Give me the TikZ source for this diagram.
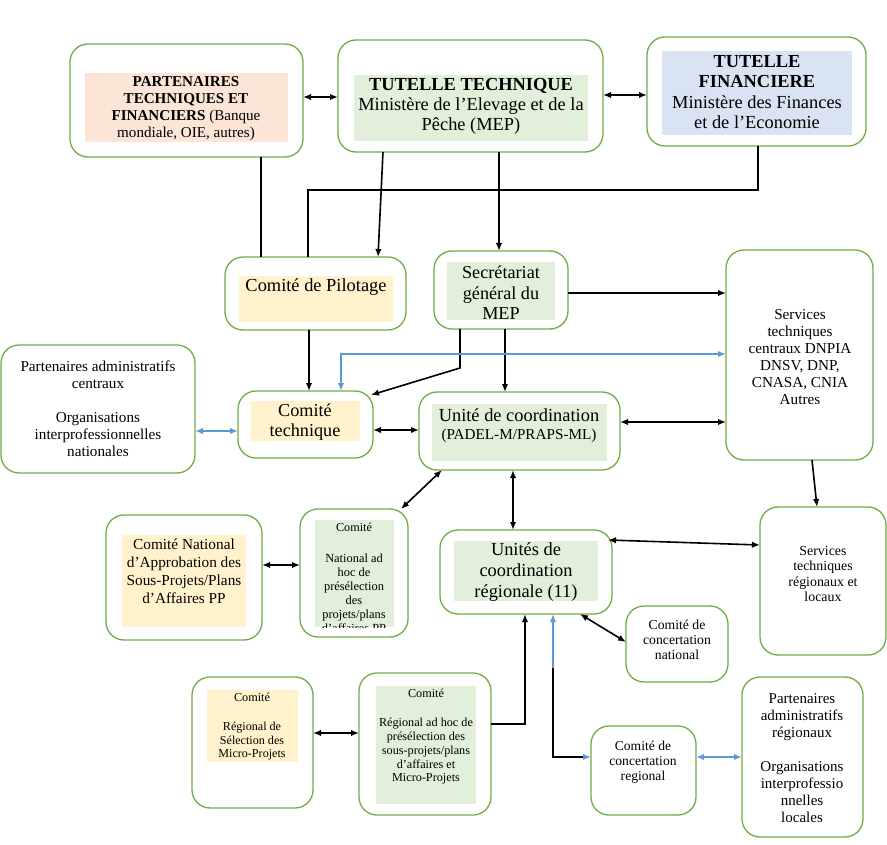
\documentclass[tikz,border=0pt]{standalone}
\usepackage{fontspec}
\setmainfont{Liberation Serif}
\usetikzlibrary{arrows.meta,calc}
\definecolor{gstroke}{RGB}{112,173,71}
\definecolor{salmon}{RGB}{252,228,214}
\definecolor{lgreen}{RGB}{226,239,218}
\definecolor{lblue}{RGB}{218,227,243}
\definecolor{lyellow}{RGB}{255,242,204}
\definecolor{bluel}{RGB}{91,155,213}
\newcommand\fs[2]{\fontsize{#1}{#2}\selectfont}
\newcommand\mybox[6][]{\node[box,#1,minimum width={(#5-#3)*1pt},minimum height={(#6-#4)*1pt}] (#2) at ({(#3+#5)/2},{(#4+#6)/2}) {};}
\tikzset{
  box/.style={draw=gstroke, line width=1.3pt, rounded corners=18pt, fill=white, inner sep=0pt, outer sep=0pt},
  fillbox/.style={draw=none, rounded corners=0pt},
  txt/.style={align=center, inner sep=0pt},
  conn/.style={line width=1.6pt, black},
  tipa/.tip={Latex[length=8pt,width=6.5pt]},
  arr/.style={conn, -tipa},
  darr/.style={conn, tipa-tipa},
  bdarr/.style={line width=1.6pt, bluel, tipa-tipa},
}
\begin{document}
\begin{tikzpicture}[x=1pt,y=-1pt]
\useasboundingbox (0,0) rectangle (887,845);
% outer boxes
\mybox{ptf}{70}{44}{303}{157}
\mybox{tt}{338}{40}{603}{152}
\mybox{tf}{647}{37}{866}{146}
\mybox{pil}{225}{257}{406}{330}
\mybox{sg}{434}{251}{568}{329}
\mybox{stc}{726}{250}{873}{460}
\mybox{pac}{1}{345}{195}{473}
\mybox{ct}{238}{391}{373}{458}
\mybox{uc}{419}{392}{620}{470}
\mybox{cna}{106}{515}{262}{640}
\mybox{cnh}{300}{509}{408}{637}
\mybox{ur}{440}{530}{612}{614}
\mybox{str}{760}{507}{886}{655}
\mybox{ccn}{626}{606}{728}{682}
\mybox{crs}{192}{677}{313}{808}
\mybox{crh}{359}{673}{491}{815}
\mybox{ccr}{591}{726}{696}{815}
\mybox{par}{742}{677}{863}{837}
% inner fills
\mybox[fillbox,fill=salmon]{ptfi}{85}{73}{288}{142}
\mybox[fillbox,fill=lgreen]{tti}{354}{75}{588}{141}
\mybox[fillbox,fill=lblue]{tfi}{662}{51}{852}{135}
\mybox[fillbox,fill=lyellow]{pili}{239}{276}{393}{322}
\mybox[fillbox,fill=lgreen]{sgi}{447}{262}{555}{320}
\mybox[fillbox,fill=lyellow]{cti}{251}{401}{360}{441}
\mybox[fillbox,fill=lgreen]{uci}{432}{404}{607}{461}
\mybox[fillbox,fill=lyellow]{cnai}{122}{535}{246}{627}
\mybox[fillbox,fill=lgreen]{cnhi}{315}{520}{394}{627}
\mybox[fillbox,fill=lgreen]{uri}{454}{541}{598}{601}
\mybox[fillbox,fill=lyellow]{crsi}{207}{690}{298}{762}
\mybox[fillbox,fill=lgreen]{crhi}{376}{686}{476}{804}
% texts
\node[txt,font=\fs{15.1}{17}] (ptft) at (186,109) {\textbf{PARTENAIRES}\\\textbf{TECHNIQUES ET}\\\textbf{FINANCIERS} (Banque\\mondiale, OIE, autres)};
\node[txt,font=\fs{18.4}{20}] (ttt) at (471,106) {\textbf{TUTELLE TECHNIQUE}\\Ministère de l’Elevage et de la\\Pêche (MEP)};
\node[txt,font=\fs{18.4}{20.3}] (tft) at (757,92) {\textbf{TUTELLE}\\\textbf{FINANCIERE}\\Ministère des Finances\\et de l’Economie};
\node[txt,font=\fs{18.4}{20}] (pilt) at (316,287) {Comité de Pilotage};
\node[txt,font=\fs{18.2}{20.5}] (sgt) at (501,293) {Secrétariat\\général du\\MEP};
\node[txt,font=\fs{15.2}{17}] (stct) at (800,357) {Services\\techniques\\centraux DNPIA\\DNSV, DNP,\\CNASA, CNIA\\Autres};
\node[txt,font=\fs{15.2}{17}] (pact) at (98,409) {Partenaires administratifs\\centraux\\[17pt]Organisations\\interprofessionnelles\\nationales};
\node[txt,font=\fs{18.2}{20}] (ctt) at (305,422) {Comité\\technique};
\node[txt,font=\fs{18.4}{20}] (uct1) at (519,415) {Unité de coordination};
\node[txt,font=\fs{15.2}{17}] (uct2) at (519,436) {(PADEL-M/PRAPS-ML)};
\node[txt,font=\fs{15.3}{18}] (cnat) at (184,571) {Comité National\\d’Approbation des\\Sous-Projets/Plans\\d’Affaires PP};
\node[txt,font=\fs{12.2}{13}] (cnht1) at (354,527) {Comité};
\begin{scope}
\clip (cnhi.south west) rectangle (cnhi.north east);
\node[txt,font=\fs{12.4}{14}] (cnht2) at (354,593) {National ad\\hoc de\\présélection\\des\\projets/plans\\d’affaires PP};
\end{scope}
\node[txt,font=\fs{18.4}{21}] (urt) at (526,572) {Unités de\\coordination\\régionale (11)};
\node[txt,font=\fs{13.9}{15.5}] (strt) at (823,574) {Services\\techniques\\régionaux et\\locaux};
\node[txt,font=\fs{13.7}{15}] (ccnt) at (677,640) {Comité de\\concertation\\national};
\node[txt,font=\fs{12.2}{13}] (crst1) at (252,697) {Comité};
\node[txt,font=\fs{12.1}{13.5}] (crst2) at (252,741.5) {Régional de\\Sélection des\\Micro-Projets};
\node[txt,font=\fs{12.2}{13}] (crht1) at (426,693) {Comité};
\node[txt,font=\fs{12.2}{13.75}] (crht2) at (426,751.5) {Régional ad hoc de\\présélection des\\sous-projets/plans\\d’affaires et\\Micro-Projets};
\node[txt,font=\fs{13.6}{15}] (ccrt) at (643,762) {Comité de\\concertation\\regional};
\node[txt,font=\fs{15}{17.1}] (part) at (802,758) {Partenaires\\administratifs\\régionaux\\[17pt]Organisations\\interprofessio\\nnelles\\locales};
% connectors
\draw[darr] (ptf.east |- 0,97) -- (tt.west |- 0,97);
\draw[darr] (tt.east |- 0,95) -- (tf.west |- 0,95);
\draw[conn] (261,0 |- ptf.south) -- (261,0 |- pil.north);
\draw[arr] (383,0 |- tt.south) -- (378,0 |- pil.north);
\draw[arr] (499,0 |- tt.south) -- (499,0 |- sg.north);
\draw[conn] (758,0 |- tf.south) -- (758,190) -- (308,190) -- (308,0 |- pil.north);
\draw[arr] (309,0 |- pil.south) -- (309,0 |- ct.north);
\draw[arr] (460,0 |- sg.south) -- (460,368) -- ($(ct.north east)+(-2,4)$);
\draw[arr] (505,0 |- sg.south) -- (505,0 |- uc.north);
\draw[arr] (sg.east |- 0,293) -- (stc.west |- 0,293);
\draw[bdarr] (341,0 |- ct.north) -- (341,354) -- (stc.west |- 0,354);
\draw[bdarr] (pac.east |- 0,431) -- (ct.west |- 0,431);
\draw[darr] (ct.east |- 0,430) -- (uc.west |- 0,430);
\draw[darr] (uc.east |- 0,422) -- (stc.west |- 0,422);
\draw[arr] (812,0 |- stc.south) -- (817,0 |- str.north);
\draw[darr] (442,0 |- uc.south) -- ($(cnh.north east)+(-7,0)$);
\draw[darr] (513,0 |- uc.south) -- (513,0 |- ur.north);
\draw[darr] (cna.east |- 0,565) -- (cnh.west |- 0,565);
\draw[darr] ($(ur.north east)+(-4,10)$) -- (str.west |- 0,545);
\draw[darr] (580,0 |- ur.south) -- (ccn.west |- 0,642);
\draw[darr] (crs.east |- 0,733) -- (crh.west |- 0,733);
\draw[arr] (crh.east |- 0,724) -- (525,724) -- (525,0 |- ur.south);
\draw[conn, {Latex[length=8pt,width=6.5pt,color=bluel]}-{Latex[length=8pt,width=6.5pt,color=bluel]}] (553,0 |- ur.south) -- (553,757) -- (ccr.west |- 0,757);
\draw[line width=1.2pt, bluel] (553,622) -- (553,668);
\draw[bdarr] (ccr.east |- 0,757) -- (par.west |- 0,757);
\end{tikzpicture}
\end{document}
